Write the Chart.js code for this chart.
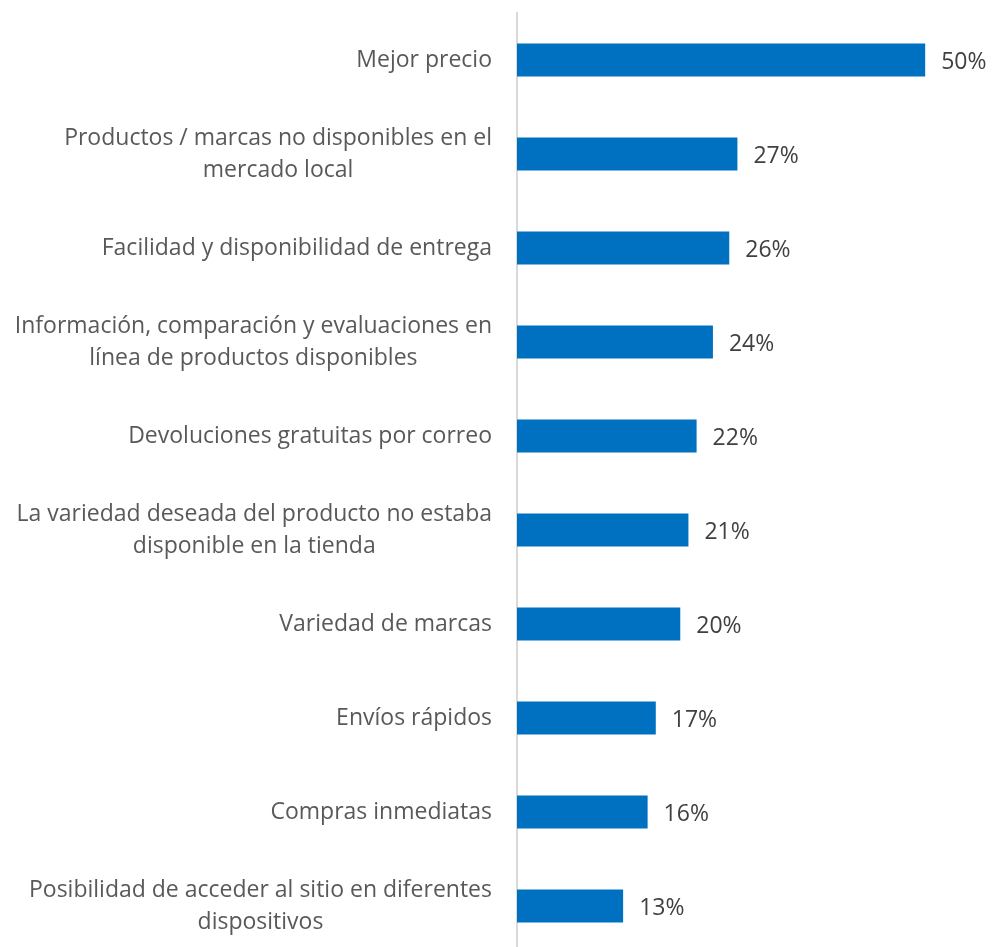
<!DOCTYPE html>
<html>
<head>
<meta charset="utf-8">
<script src="https://cdn.jsdelivr.net/npm/chart.js@4.4.0/dist/chart.umd.min.js"></script>
<style>
  html, body { margin: 0; padding: 0; background: #fff; overflow: hidden; }
  #wrap { width: 992px; height: 960px; }
</style>
</head>
<body>
<div id="wrap"><canvas id="chart" width="992" height="960"></canvas></div>
<script>
const categories = [
  ['Mejor precio'],
  ['Productos / marcas no disponibles en el', 'mercado local'],
  ['Facilidad y disponibilidad de entrega'],
  ['Información, comparación y evaluaciones en', 'línea de productos disponibles'],
  ['Devoluciones gratuitas por correo'],
  ['La variedad deseada del producto no estaba', 'disponible en la tienda'],
  ['Variedad de marcas'],
  ['Envíos rápidos'],
  ['Compras inmediatas'],
  ['Posibilidad de acceder al sitio en diferentes', 'dispositivos']
];
const values = [50, 27, 26, 24, 22, 21, 20, 17, 16, 13];

const FONT = '"Open Sans", sans-serif';
const LABEL_SIZE = 23;

// category labels: right-aligned block, lines centered within it
const categoryLabels = {
  id: 'categoryLabels',
  afterDraw(chart) {
    const ctx = chart.ctx;
    const yScale = chart.scales.y;
    const right = yScale.right - 25;
    ctx.save();
    ctx.font = LABEL_SIZE + 'px ' + FONT;
    ctx.fillStyle = '#595959';
    ctx.textAlign = 'center';
    ctx.textBaseline = 'middle';
    const lineH = 32;
    categories.forEach((lines, i) => {
      const y = yScale.getPixelForTick(i);
      const w = Math.max(...lines.map(l => ctx.measureText(l).width));
      const cx = right - w / 2;
      const y0 = y - (lines.length - 1) * lineH / 2;
      lines.forEach((l, j) => ctx.fillText(l, cx, y0 + j * lineH));
    });
    ctx.restore();
  }
};

const valueLabels = {
  id: 'valueLabels',
  afterDatasetsDraw(chart) {
    const ctx = chart.ctx;
    const meta = chart.getDatasetMeta(0);
    ctx.save();
    ctx.font = LABEL_SIZE + 'px ' + FONT;
    ctx.fillStyle = '#404040';
    ctx.textAlign = 'left';
    ctx.textBaseline = 'middle';
    meta.data.forEach((bar, i) => {
      ctx.fillText(values[i] + '%', bar.x + 16, bar.y + 2);
    });
    ctx.restore();
  }
};

new Chart(document.getElementById('chart'), {
  type: 'bar',
  data: {
    labels: categories,
    datasets: [{
      data: values,
      backgroundColor: '#0070C0',
      borderWidth: 0,
      barPercentage: 0.35,
      categoryPercentage: 1
    }]
  },
  options: {
    indexAxis: 'y',
    responsive: false,
    animation: false,
    layout: { padding: { left: 517, right: 26, top: 13, bottom: 7 } },
    plugins: {
      legend: { display: false },
      tooltip: { enabled: false }
    },
    scales: {
      x: {
        display: false,
        min: 0,
        max: 55
      },
      y: {
        grid: { display: false, drawTicks: false },
        border: { display: true, color: '#d9d9d9', width: 2 },
        ticks: { display: false }
      }
    }
  },
  plugins: [categoryLabels, valueLabels]
});
</script>
</body>
</html>
